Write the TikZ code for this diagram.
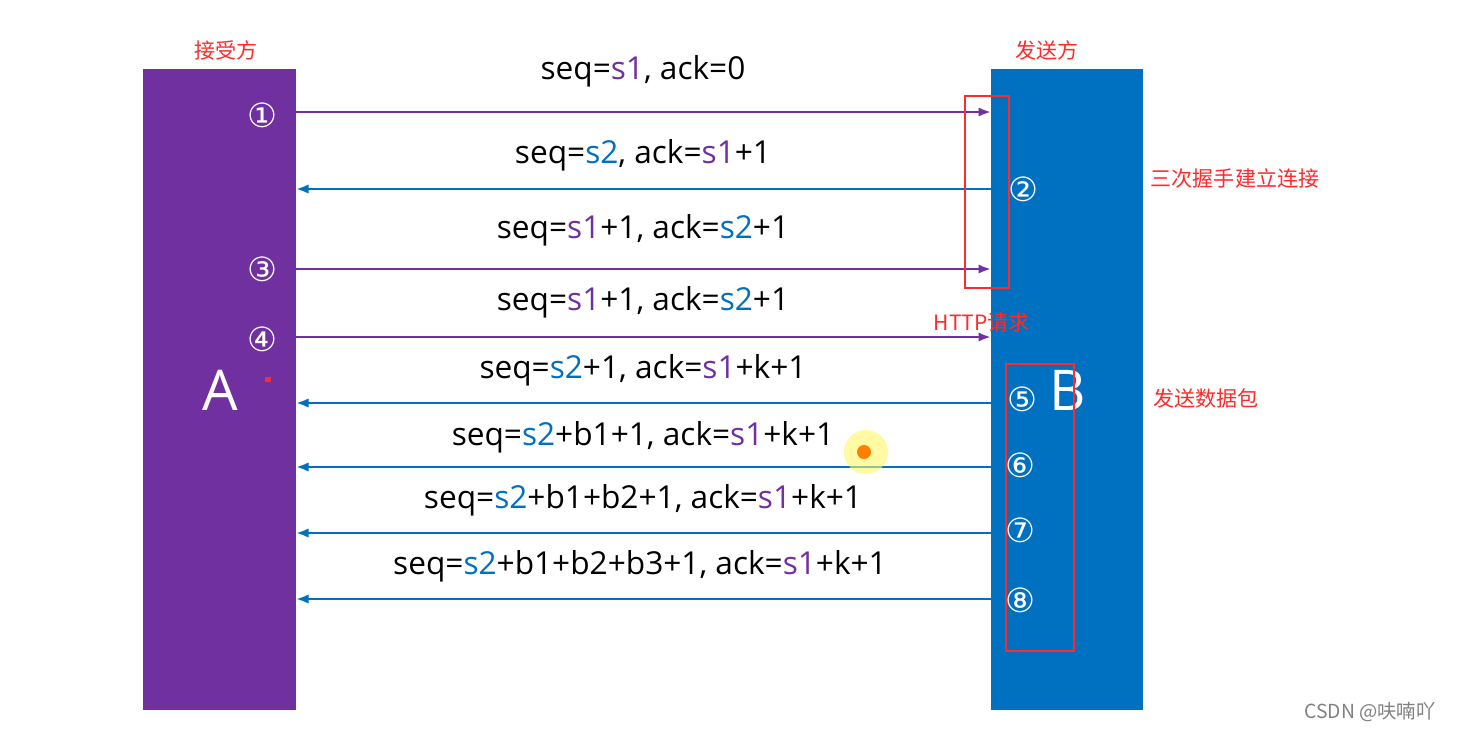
\documentclass[tikz,border=0pt]{standalone}
\usepackage{fontspec}
\setmainfont{Open Sans}
\newfontfamily\cjk{Noto Sans CJK SC}
\newfontfamily\sym{DejaVu Sans}
\usetikzlibrary{arrows.meta}
\definecolor{purp1}{HTML}{7030A0}
\definecolor{blue1}{HTML}{0070C0}
\definecolor{red1}{HTML}{FF2A2A}
\newcommand{\sone}{\textcolor{purp1}{s1}}
\newcommand{\stwo}{\textcolor{blue1}{s2}}
\tikzset{
  msg/.style={font=\fontsize{18}{20}\selectfont},
  num/.style={text=white,font=\sym\fontsize{19}{20}\selectfont},
  note/.style={text=red1,font=\cjk\fontsize{12}{14}\selectfont},
  fwd/.style={draw=purp1,line width=1.6pt,-{Latex[length=2.5mm]}},
  bwd/.style={draw=blue1,line width=1.6pt,-{Latex[length=2.5mm]}}
}
\begin{document}
\begin{tikzpicture}[x=0.02cm,y=-0.02cm]
\useasboundingbox[fill=white] (0,0) rectangle (1461,731);

% the two hosts
\fill[purp1] (143,69) rectangle (296,710);
\fill[blue1] (991,69) rectangle (1143,710);
\node[text=white,font=\fontsize{32}{34}\selectfont] (hostA) at (220,390) {A};
\node[text=white,font=\fontsize{32}{34}\selectfont] (hostB) at (1068,390) {B};
\fill[red1] (265,377) rectangle (271,382);

% end points of the messages
\foreach \n/\y in {1/112,3/269,4/337}{
  \coordinate (a\n) at (296,\y);
  \coordinate (b\n) at (991,\y);
  \draw[fwd] (a\n) -- (b\n);
}
\foreach \n/\y in {2/189,5/403,6/467,7/533,8/599}{
  \coordinate (a\n) at (296,\y);
  \coordinate (b\n) at (991,\y);
  \draw[bwd] (b\n) -- (a\n);
}

% message labels
\node[msg] (m1) at (643,71) {seq=\sone, ack=0};
\node[msg] (m2) at (643,155) {seq=\stwo, ack=\sone+1};
\node[msg] (m3) at (643,230) {seq=\sone+1, ack=\stwo+1};
\node[msg] (m4) at (643,302) {seq=\sone+1, ack=\stwo+1};
\node[msg] (m5) at (643,370) {seq=\stwo+1, ack=\sone+k+1};
\node[msg] (m6) at (643,437) {seq=\stwo+b1+1, ack=\sone+k+1};
\node[msg] (m7) at (643,500) {seq=\stwo+b1+b2+1, ack=\sone+k+1};
\node[msg] (m8) at (640,566) {seq=\stwo+b1+b2+b3+1, ack=\sone+k+1};

% step numbers
\node[num] (n1) at (262,115) {①};
\node[num] (n2) at (1023,189) {②};
\node[num] (n3) at (262,269) {③};
\node[num] (n4) at (262,339) {④};
\node[num] (n5) at (1022,399) {⑤};
\node[num] (n6) at (1020,465) {⑥};
\node[num] (n7) at (1020,530) {⑦};
\node[num] (n8) at (1020,600) {⑧};

% red marks
\draw[red1,line width=1.5pt] (965,96) rectangle (1009,288);
\draw[red1,line width=1.5pt] (1006,364) rectangle (1074,651);
\node[note] (recv) at (226,50) {接受方};
\node[note] (send) at (1047,50) {发送方};
\node[note] (hand) at (1235,178) {三次握手建立连接};
\node[note] (http) at (982,323) {HTTP请求};
\node[note] (data) at (1206,398) {发送数据包};

% pointer
\fill[yellow!60,opacity=0.6] (866,452) circle (22);
\fill[orange] (864,452) circle (7);

\node[text=gray,font=\cjk\fontsize{11}{12}\selectfont] (mark) at (1370,712) {CSDN @呋喃吖};
\end{tikzpicture}
\end{document}
